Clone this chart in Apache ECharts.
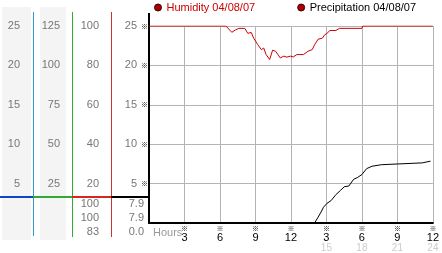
<!DOCTYPE html>
<html><head><meta charset="utf-8">
<script src="https://cdn.jsdelivr.net/npm/echarts@6/dist/echarts.min.js"></script>
<style>html,body{margin:0;padding:0;background:#fff}#c{width:442px;height:253px}</style>
</head><body><div id="c"></div>
<script>
// ---- data ----
const humidityName = 'Humidity 04/08/07';
const precipName = 'Precipitation 04/08/07';
// [hour, humidity %]
const humidity = [[0,100],[6.5,100],[7.0,96.8],[7.3,98],[7.6,98.8],[8.1,98.8],[8.35,96.3],[8.65,96.7],[8.85,93.8],[9.0,93],[9.2,90.5],[9.35,91.3],[9.5,88],[9.7,88.8],[9.9,85.5],[10.2,83],[10.45,87.7],[10.7,87.2],[10.9,85.5],[11.1,83.8],[11.4,84.7],[11.65,84.2],[11.95,84.7],[12.2,84.3],[12.5,85.5],[13.05,85.5],[13.45,87.2],[13.8,88],[14.0,90.5],[14.3,93.3],[14.65,93.8],[14.85,95.5],[15.05,96.3],[15.3,97.7],[15.8,97.7],[16.1,98.8],[18.0,98.8],[18.07,100],[24,100]];
// [hour, precipitation]
const precipitation = [[1.5,0],[14.0,0],[14.3,0.75],[14.55,1.4],[14.75,2.0],[15.05,2.5],[15.4,2.85],[15.8,3.6],[16.2,4.15],[16.5,4.6],[16.9,4.7],[17.3,5.55],[17.6,5.75],[18.0,6.15],[18.4,6.9],[18.85,7.2],[19.65,7.4],[19.8,7.63],[23.1,7.63],[23.25,7.85],[23.8,7.85]];
const col1Ticks = [5,10,15,20,25];
const col2Ticks = [25,50,75,100,125];
const col3Ticks = [20,40,60,80,100];
const col4Ticks = [5,10,15,20,25];
const hourTicks = [3,6,9,12,15,18,21,24];
const tableHumidity = ['100','100','83'];
const tablePrecip = ['7.9','7.9','0.0'];

const FONT = '"Liberation Sans", Arial, sans-serif';
const MARKFONT = '"Noto Sans CJK SC"';
const LABEL_GRAY = '#777';

function sideAxis(maxV, interval, offset, margin, ticks){
  return {type:'value', position:'left', min:0, max:maxV, interval:interval, offset:offset,
    axisLine:{show:false}, axisTick:{show:false}, splitLine:{show:false},
    axisLabel:{margin:margin, color:LABEL_GRAY, fontSize:11, fontFamily:FONT,
      formatter:v=>ticks.indexOf(v)>=0?String(v):''}};
}

const chart = echarts.init(document.getElementById('c'), null, {renderer:'canvas'});
const gridL=149, gridT=26, gridW=290, gridH=200;
const tableRowsY = [204,218,232];
const graphics = [
  {type:'rect', shape:{x:2,y:7,width:29,height:233}, style:{fill:'#f4f4f4'}, z:-1},
  {type:'rect', shape:{x:40,y:7,width:26,height:233}, style:{fill:'#f4f4f4'}, z:-1},
  {type:'line', shape:{x1:33.5,y1:12,x2:33.5,y2:236}, style:{stroke:'#3399cc',lineWidth:1}},
  {type:'line', shape:{x1:72.5,y1:12,x2:72.5,y2:237}, style:{stroke:'#33aa33',lineWidth:1}},
  {type:'line', shape:{x1:111.5,y1:12,x2:111.5,y2:237}, style:{stroke:'#cc3333',lineWidth:1}},
  {type:'line', shape:{x1:0,y1:197,x2:33,y2:197}, style:{stroke:'#1144cc',lineWidth:2}},
  {type:'line', shape:{x1:33,y1:197,x2:72,y2:197}, style:{stroke:'#33aa33',lineWidth:2}},
  {type:'line', shape:{x1:72,y1:197,x2:111,y2:197}, style:{stroke:'#dd2222',lineWidth:2}},
  {type:'line', shape:{x1:111,y1:197,x2:149,y2:197}, style:{stroke:'#000',lineWidth:2}},
  {type:'line', shape:{x1:149,y1:13,x2:149,y2:27}, style:{stroke:'#000',lineWidth:2}},
  {type:'text', left:153, top:227, style:{text:'Hours', fill:'#999', font:'11px '+FONT}}
];
tableHumidity.forEach((t,i)=>graphics.push({type:'text', style:{text:t, x:99, y:tableRowsY[i], textAlign:'right', textVerticalAlign:'middle', fill:LABEL_GRAY, font:'11px '+FONT}}));
tablePrecip.forEach((t,i)=>graphics.push({type:'text', style:{text:t, x:144, y:tableRowsY[i], textAlign:'right', textVerticalAlign:'middle', fill:LABEL_GRAY, font:'11px '+FONT}}));

chart.setOption({
  animation:false,
  backgroundColor:'#fff',
  textStyle:{fontFamily:FONT},
  legend:{left:154, top:2, padding:0, itemWidth:7, itemHeight:7, itemGap:42, icon:'circle',
    textStyle:{fontSize:11, color:'#000', fontFamily:FONT},
    data:[{name:humidityName, textStyle:{color:'#cc0000'}, itemStyle:{color:'#aa0000', borderColor:'#440000', borderWidth:1}},
          {name:precipName, itemStyle:{color:'#aa0000', borderColor:'#440000', borderWidth:1}}]},
  grid:{left:gridL, top:gridT, width:gridW, height:gridH},
  xAxis:{type:'value', min:0, max:24, interval:3,
    axisLine:{lineStyle:{color:'#000', width:2}}, axisTick:{show:false},
    splitLine:{show:true, lineStyle:{color:'#b4b4b4', width:1}},
    axisLabel:{margin:2, showMinLabel:false,
      formatter:v=>{ if(hourTicks.indexOf(v)<0) return ''; const h=v>12?v-12:v; let s='{m|※}\n{a|'+h+'}'; if(v>12) s+='\n{b|'+v+'}'; return s;},
      rich:{m:{fontSize:7, lineHeight:7, color:'#000', fontWeight:'bold', fontFamily:MARKFONT},
            a:{fontSize:11, lineHeight:11, color:'#000', fontFamily:FONT},
            b:{fontSize:10, lineHeight:10, color:'#cccccc', fontFamily:FONT}}}},
  yAxis:[
    {type:'value', position:'left', min:0, max:25, interval:5, offset:0,
      axisLine:{show:true, lineStyle:{color:'#000', width:2}}, axisTick:{show:false},
      splitLine:{show:true, lineStyle:{color:'#b4b4b4', width:1}},
      axisLabel:{margin:12, color:LABEL_GRAY, fontSize:11, fontFamily:FONT, formatter:v=>col4Ticks.indexOf(v)>=0?String(v):''}},
    {type:'value', position:'left', min:0, max:25, interval:5, offset:0,
      axisLine:{show:false}, axisTick:{show:false}, splitLine:{show:false},
      axisLabel:{margin:1, color:'#000', fontSize:7, fontWeight:'bold', fontFamily:MARKFONT, formatter:v=>col4Ticks.indexOf(v)>=0?'※':''}},
    sideAxis(100,20,38,12,col3Ticks),
    sideAxis(125,25,77,12,col2Ticks),
    sideAxis(25,5,116,13,col1Ticks)
  ],
  series:[
    {name:humidityName, type:'line', yAxisIndex:2, data:humidity, symbol:'none', color:'#aa0000',
      lineStyle:{color:'#cc0000', width:1}, z:5},
    {name:precipName, type:'line', yAxisIndex:0, data:precipitation, symbol:'none', color:'#aa0000',
      lineStyle:{color:'#000', width:1}, z:5}
  ],
  graphic:graphics
});
</script></body></html>
